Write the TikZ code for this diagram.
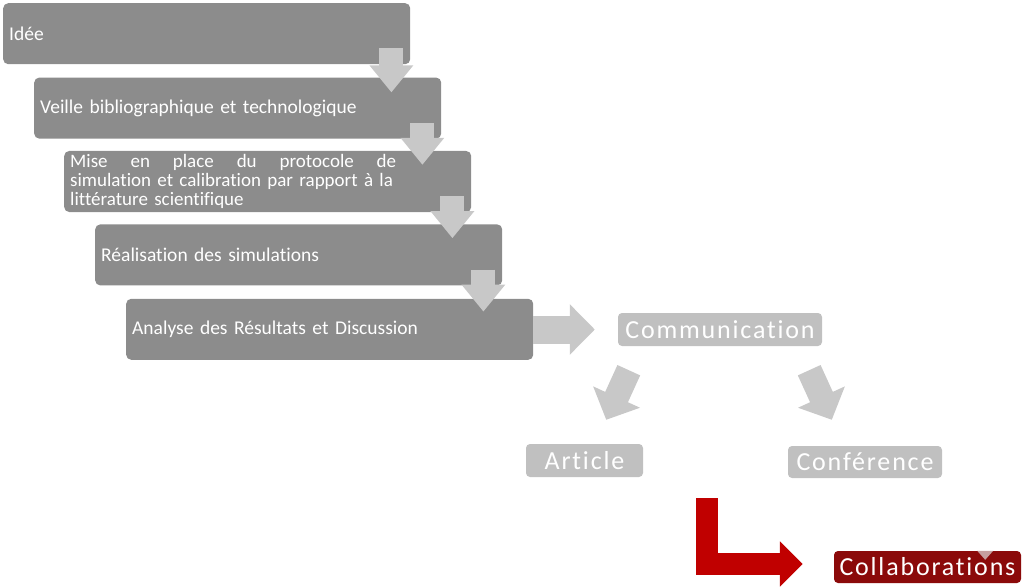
\documentclass[tikz,border=0pt]{standalone}
\usepackage{fontspec}
\setmainfont{Carlito}[Ligatures=NoCommon]
\newfontfamily\spacedfont{Carlito}[LetterSpace=7, Ligatures=NoCommon]
\usetikzlibrary{arrows.meta, positioning, calc}
\definecolor{boxgray} {HTML}{8C8C8C}
\definecolor{arrgray} {HTML}{C8C8C8}
\definecolor{lightbox}{HTML}{C0C0C0}
\definecolor{darkred} {HTML}{8B0A0A}
\definecolor{redarr}  {HTML}{C00000}
\tikzset{
  stepbox/.style={fill=boxgray, rounded corners=5pt, minimum height=61pt, text width=395pt,
    inner xsep=6pt, align=left, text=white, font=\fontsize{19.5}{19}\selectfont},
  tagbox/.style={fill=lightbox, rounded corners=4pt, inner sep=0pt, text=white,
    font=\spacedfont\fontsize{26}{28}\selectfont},
  downarr/.style={draw=arrgray, line width=24pt, -{Triangle[width=42pt, length=27pt]}},
  diagarr/.style={draw=arrgray, line width=25pt, -{Triangle[width=50pt, length=25pt]}}
}

\begin{document}
\begin{tikzpicture}[x=1pt, y=-1pt]
  \useasboundingbox (0,0) rectangle (1024,588);
  % the five steps, each one shifted right
  \node[stepbox, anchor=north west] (idee) at (3,3) {Idée};
  \node[stepbox, below=13pt of idee.south west, anchor=north west, xshift=31pt] (veille)
    {Veille bibliographique et technologique};
  \node[stepbox, below=12pt of veille.south west, anchor=north west, xshift=30pt,
    font=\fontsize{19}{19}\selectfont] (proto)
    {\makebox[326pt][l]{Mise\hfill en\hfill place\hfill du\hfill protocole\hfill de}\\
     simulation et calibration par rapport à la\\ littérature scientifique};
  \node[stepbox, below=12pt of proto.south west, anchor=north west, xshift=31pt] (simu)
    {Réalisation des simulations};
  \node[stepbox, below=13pt of simu.south west, anchor=north west, xshift=31pt] (analyse)
    {Analyse des Résultats et Discussion};

  \draw[downarr] ($(idee.south east)+(-19,-16)$) -- ($(idee.south east)+(-19,28)$);
  \draw[downarr] ($(veille.south east)+(-19,-16)$) -- ($(veille.south east)+(-19,26)$);
  \draw[downarr] ($(proto.south east)+(-19,-16)$) -- ($(proto.south east)+(-19,26)$);
  \draw[downarr] ($(simu.south east)+(-19,-16)$) -- ($(simu.south east)+(-19,26)$);

  % communication part
  \node[tagbox, minimum width=204pt, minimum height=33pt] (comm) at (720,329.5) {Communication};
  \node[tagbox, minimum width=117pt, minimum height=33pt] (article) at (584.5,460.5) {Article};
  \node[tagbox, minimum width=154pt, minimum height=32pt] (conf) at (865,462) {Conférence};
  \node[tagbox, fill=darkred, minimum width=187pt, minimum height=32pt] (collab) at (927.5,567) {Collaborations};
  \fill[red!25!gray!60] ($(collab.north east)+(-44,0)$) -- ++(16,0) -- ++(-8,9) -- cycle;

  \draw[draw=arrgray, line width=28pt, -{Triangle[width=49pt, length=25pt]}]
    (analyse.east |- comm.west) -- ($(comm.west)+(-23,0)$);
  \draw[diagarr] ($(comm.south west)+(11,24)$) -- ($(article.north east)+(-37,-24)$);
  \draw[diagarr] ($(comm.south east)+(-13,24)$) -- ($(conf.north west)+(44,-26)$);

  \coordinate (lstart) at (707,498);
  \draw[draw=redarr, line width=22pt, -{Triangle[width=44pt, length=23pt]}]
    (lstart) |- ($(collab.west)+(-31,-3)$);
\end{tikzpicture}
\end{document}
